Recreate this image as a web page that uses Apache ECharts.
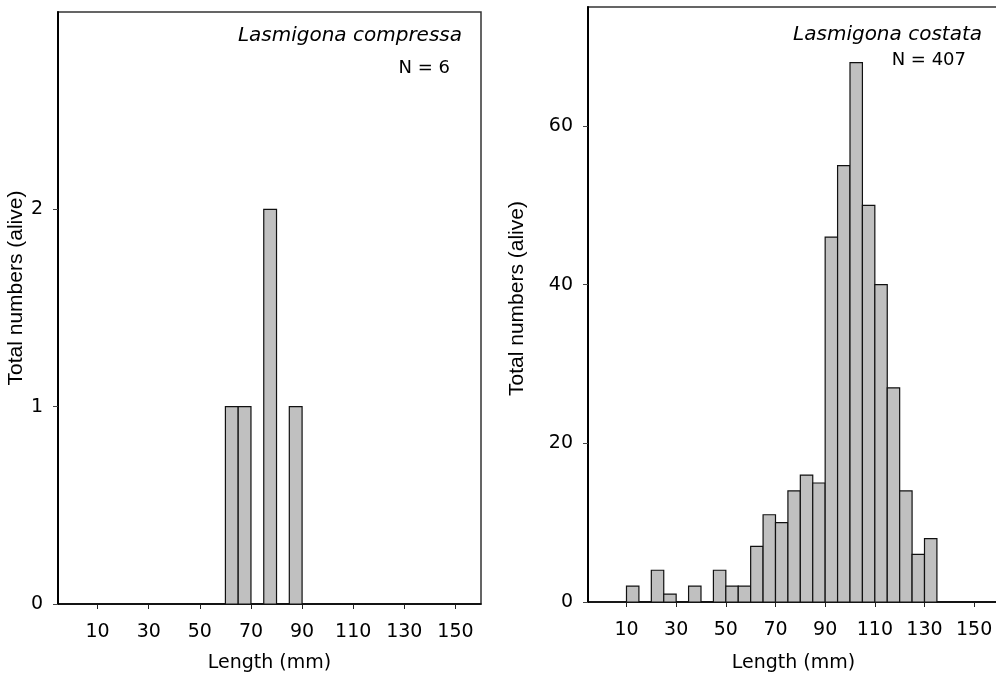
<!DOCTYPE html>
<html>
<head>
<meta charset="utf-8">
<title>Lasmigona length frequencies</title>
<script src="https://cdn.jsdelivr.net/npm/echarts@6/dist/echarts.min.js"></script>
<style>
  html, body { margin: 0; padding: 0; background: #fff; }
  #chart { width: 996px; height: 677px; }
</style>
</head>
<body>
<div id="chart"></div>
<script>
// Lower edge of each 5 mm length class (mm)
const binStarts = [-5, 0, 5, 10, 15, 20, 25, 30, 35, 40, 45, 50, 55, 60, 65, 70, 75,
                   80, 85, 90, 95, 100, 105, 110, 115, 120, 125, 130, 135, 140, 145, 150, 155];
const BIN_WIDTH = 5;

// Live individuals per length class
const compressaCounts = [0, 0, 0, 0, 0, 0, 0, 0, 0, 0, 0, 0, 0, 1, 1, 0, 2,
                         0, 1, 0, 0, 0, 0, 0, 0, 0, 0, 0, 0, 0, 0, 0, 0];
const costataCounts = [null, null, null, 2, 0, 4, 1, 0, 2, 0, 4, 2, 2, 7, 11, 10, 14,
                       16, 15, 46, 55, 68, 50, 40, 27, 14, 6, 8, 0, 0, 0, 0, 0];

// Axis ticks
const lengthTicks = [10, 30, 50, 70, 90, 110, 130, 150];
const compressaYTicks = [0, 1, 2];
const costataYTicks = [0, 20, 40, 60];

const panels = [
  { species: 'Lasmigona compressa', n: 'N = 6' },
  { species: 'Lasmigona costata', n: 'N = 407' }
];

const TICK_FONT = '"DejaVu Sans", sans-serif';

function pairs(counts) {
  return binStarts.map((b, i) => [b, counts[i]]).filter(d => d[1] !== null);
}

function renderBin(params, api) {
  const start = api.value(0);
  const count = api.value(1);
  const base = api.coord([start, 0]);
  const top = api.coord([start + BIN_WIDTH, count]);
  return {
    type: 'rect',
    shape: { x: base[0], y: top[1], width: top[0] - base[0], height: base[1] - top[1] },
    style: { fill: '#c0c0c0', stroke: '#111', lineWidth: 1.2 }
  };
}

function xAxisFor(gridIndex, nameGap) {
  return {
    type: 'value', gridIndex, min: -5.5, max: 160,
    name: 'Length (mm)', nameLocation: 'middle', nameGap,
    nameTextStyle: { fontFamily: TICK_FONT, fontSize: 19, color: '#000' },
    splitLine: { show: false },
    axisLine: { show: true, onZero: false, lineStyle: { color: '#000', width: 1.5 } },
    axisTick: { show: true, inside: false, length: 5, customValues: lengthTicks,
                lineStyle: { color: '#222', width: 1 } },
    axisLabel: { show: true, margin: 19, customValues: lengthTicks,
                 fontFamily: TICK_FONT, fontSize: 19, color: '#000', hideOverlap: false }
  };
}

function yAxisFor(gridIndex, max, ticks, nameGap, nameShift) {
  return {
    type: 'value', gridIndex, min: 0, max,
    name: 'Total numbers (alive)', nameLocation: 'middle', nameGap,
    nameTextStyle: { fontFamily: '"Liberation Sans", Arial, sans-serif', fontSize: 21, color: '#000',
                     padding: [0, 0, 0, nameShift] },
    splitLine: { show: false },
    axisLine: { show: true, onZero: false, lineStyle: { color: '#000', width: 2 } },
    axisTick: { show: true, inside: false, length: 5, customValues: ticks,
                lineStyle: { color: '#444', width: 1 } },
    axisLabel: { show: true, margin: 15, customValues: ticks,
                 fontFamily: TICK_FONT, fontSize: 19, color: '#000', hideOverlap: false }
  };
}

const chart = echarts.init(document.getElementById('chart'), null, { renderer: 'canvas' });

chart.setOption({
  animation: false,
  backgroundColor: '#fff',
  grid: [
    { left: 58, top: 12, width: 423, height: 592, show: true, borderColor: '#333', borderWidth: 1.5,
      containLabel: false, outerBoundsMode: 'none' },
    { left: 588, top: 7, width: 411, height: 595, show: true, borderColor: '#333', borderWidth: 1.5,
      containLabel: false, outerBoundsMode: 'none' }
  ],
  xAxis: [xAxisFor(0, 50), xAxisFor(1, 52)],
  yAxis: [yAxisFor(0, 3, compressaYTicks, 31, 40), yAxisFor(1, 75, costataYTicks, 60, 12)],
  series: [
    { type: 'custom', name: panels[0].species, xAxisIndex: 0, yAxisIndex: 0,
      renderItem: renderBin, data: pairs(compressaCounts), encode: { x: 0, y: 1 } },
    { type: 'custom', name: panels[1].species, xAxisIndex: 1, yAxisIndex: 1,
      renderItem: renderBin, data: pairs(costataCounts), encode: { x: 0, y: 1 } }
  ],
  graphic: [
    { type: 'text', x: 462, y: 36, style: { text: panels[0].species, align: 'right', verticalAlign: 'middle',
      font: 'italic 20px "DejaVu Sans", sans-serif', fill: '#000' } },
    { type: 'text', x: 450, y: 68, style: { text: panels[0].n, align: 'right', verticalAlign: 'middle',
      font: '18px "DejaVu Sans", sans-serif', fill: '#000' } },
    { type: 'text', x: 982, y: 35, style: { text: panels[1].species, align: 'right', verticalAlign: 'middle',
      font: 'italic 20px "DejaVu Sans", sans-serif', fill: '#000' } },
    { type: 'text', x: 966, y: 60, style: { text: panels[1].n, align: 'right', verticalAlign: 'middle',
      font: '18px "DejaVu Sans", sans-serif', fill: '#000' } }
  ]
});
</script>
</body>
</html>
